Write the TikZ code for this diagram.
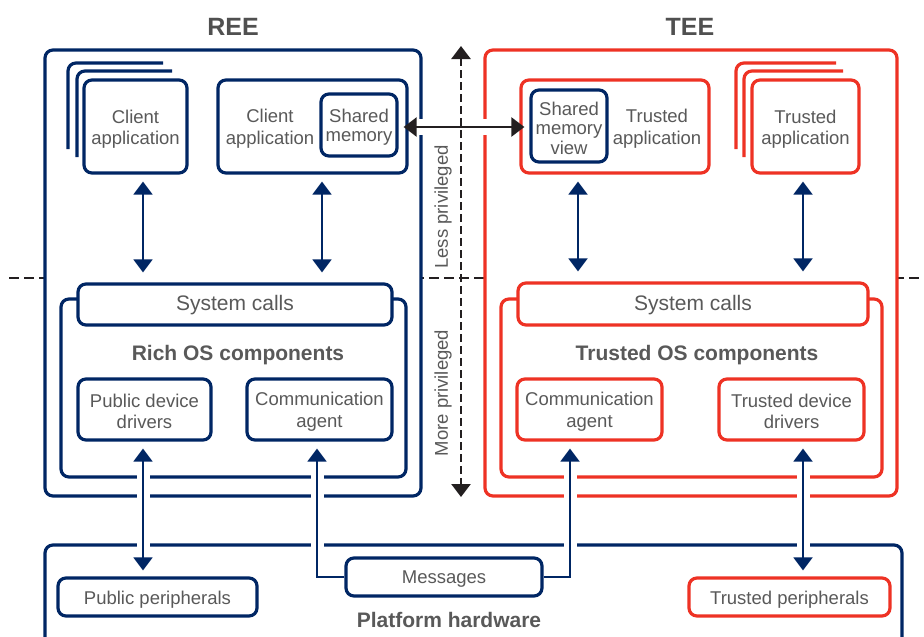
\documentclass[tikz,border=0pt]{standalone}
\usepackage{fontspec}
\setmainfont{Liberation Sans}
\usetikzlibrary{arrows.meta,calc}
\definecolor{navy}{RGB}{0,38,100}
\definecolor{teered}{RGB}{238,50,36}
\definecolor{txt}{RGB}{89,89,89}
\definecolor{ink}{RGB}{35,31,32}
\begin{document}
\begin{tikzpicture}[x=1pt,y=-1pt,
  box/.style={draw, line width=3.2pt, rounded corners=8pt, fill=white, inner sep=0pt},
  nbox/.style={box, draw=navy},
  rbox/.style={box, draw=teered},
  stackline/.style={line width=3.2pt, rounded corners=8pt},
  lbl/.style={text=txt, align=center, inner sep=0pt, font=\fontsize{18.5}{21.5}\selectfont},
  tight/.style={font=\fontsize{18.5}{19.5}\selectfont},
  boldlbl/.style={text=txt, inner sep=0pt, font=\fontsize{21}{24}\selectfont\bfseries},
  titlelbl/.style={text=txt!90!black, inner sep=0pt, font=\fontsize{25}{28}\selectfont\bfseries},
  sysfont/.style={font=\fontsize{21}{24}\selectfont},
  navarrow/.style={draw=navy, line width=2pt, {Triangle[length=13pt,width=19pt]}-{Triangle[length=13pt,width=19pt]}},
  navsingle/.style={draw=navy, line width=2pt, -{Triangle[length=13pt,width=19pt]}},
  halo/.style={preaction={draw=white, line width=13pt, -, shorten <=13pt, shorten >=13pt}},
  inkarrow/.style={draw=ink, line width=2.2pt, {Triangle[length=13pt,width=19pt]}-{Triangle[length=13pt,width=19pt]}},
]
\useasboundingbox (0,0) rectangle (924,637);
\clip (0,0) rectangle (924,637);

% privilege boundary
\coordinate (hl) at (9,278);
\coordinate (hr) at (924,278);
\draw[ink, line width=2pt, dash pattern=on 10pt off 5pt] (hl) -- (hr);

% ===== REE =====
\node[titlelbl] (reetitle) at (233,27) {REE};
\node[nbox, minimum width=376pt, minimum height=446pt] (ree) at (233,273) {};
\draw[stackline, navy] (68,149) |- (163,63);
\draw[stackline, navy] (77,157) |- (172,71);
\node[nbox, minimum width=103pt, minimum height=93pt] (ca1) at (135.5,126.5) {};
\node[lbl] (ca1t) at ($(ca1)+(0,2.5)$) {Client\\application};
\node[nbox, minimum width=189pt, minimum height=93pt] (ca2) at (312.5,126.5) {};
\node[lbl] (ca2t) at (270,128.5) {Client\\application};
\node[nbox, minimum width=76pt, minimum height=62pt] (shm) at (359,125) {};
\node[lbl, tight] (shmt) at ($(shm)+(0,2)$) {Shared\\memory};
\node[nbox, minimum width=345pt, minimum height=178pt] (rich) at (233.5,388) {};
\node[nbox, minimum width=314pt, minimum height=41pt] (sys1) at (235,304.5) {};
\node[lbl, sysfont] (sys1t) at ($(sys1)+(0,1)$) {System calls};
\node[boldlbl] (richlbl) at (238,355) {Rich OS components};
\node[nbox, minimum width=133pt, minimum height=61pt] (pdd) at (144.5,409.5) {};
\node[lbl] (pddt) at ($(pdd)+(0,2)$) {Public device\\drivers};
\node[nbox, minimum width=145pt, minimum height=61pt] (cag1) at (319.5,409.5) {};
\node[lbl] (cag1t) at ($(cag1)+(0,2)$) {Communication\\agent};

% ===== TEE =====
\node[titlelbl] (teetitle) at (690,27) {TEE};
\node[rbox, minimum width=412pt, minimum height=446pt] (tee) at (691,273) {};
\node[rbox, minimum width=188pt, minimum height=93pt] (ta1) at (615,126.5) {};
\node[lbl] (ta1t) at (657,128.5) {Trusted\\application};
\node[nbox, minimum width=76pt, minimum height=72pt] (shmv) at (569,126) {};
\node[lbl, tight] (shmvt) at ($(shmv)+(0,2)$) {Shared\\memory\\view};
\draw[stackline, teered] (736,149) |- (836,63);
\draw[stackline, teered] (744,157) |- (843,71);
\node[rbox, minimum width=107pt, minimum height=93pt] (ta2) at (805.5,126.5) {};
\node[lbl] (ta2t) at ($(ta2)+(0,2.5)$) {Trusted\\application};
\node[rbox, minimum width=381pt, minimum height=178pt] (tos) at (691.5,388) {};
\node[rbox, minimum width=350pt, minimum height=42pt] (sys2) at (693,304) {};
\node[lbl, sysfont] (sys2t) at ($(sys2)+(0,1)$) {System calls};
\node[boldlbl] (toslbl) at (697,355) {Trusted OS components};
\node[rbox, minimum width=145pt, minimum height=61pt] (cag2) at (589.5,409.5) {};
\node[lbl] (cag2t) at ($(cag2)+(0,2)$) {Communication\\agent};
\node[rbox, minimum width=145pt, minimum height=61pt] (tdd) at (791.5,409.5) {};
\node[lbl] (tddt) at ($(tdd)+(0,2)$) {Trusted device\\drivers};

% ===== Platform hardware =====
\node[nbox, minimum width=857pt, minimum height=115pt] (plat) at (473.5,602.5) {};
\node[nbox, minimum width=199pt, minimum height=38pt] (pp) at (157.5,597) {};
\node[lbl] (ppt) at ($(pp)+(0,2.5)$) {Public peripherals};
\node[nbox, minimum width=196pt, minimum height=38pt] (msg) at (444,577) {};
\node[lbl] (msgt) at ($(msg)+(0,2)$) {Messages};
\node[rbox, minimum width=201pt, minimum height=38pt] (tp) at (789.5,597) {};
\node[lbl] (tpt) at ($(tp)+(0,2.5)$) {Trusted peripherals};
\node[boldlbl] (platlbl) at (449,620) {Platform hardware};

% connector columns
\coordinate (xa) at (143,0);
\coordinate (xb) at (322,0);
\coordinate (xc) at (578,0);
\coordinate (xd) at (803,0);
\coordinate (xe) at (317,0);
\coordinate (xf) at (570,0);
\coordinate (yh) at (0,127);

% app <-> system calls
\draw[navarrow, shorten <=7pt, shorten >=10pt] (ca1.south -| xa) -- (sys1.north -| xa);
\draw[navarrow, shorten <=7pt, shorten >=10pt] (ca2.south -| xb) -- (sys1.north -| xb);
\draw[navarrow, shorten <=7pt, shorten >=10pt] (ta1.south -| xc) -- (sys2.north -| xc);
\draw[navarrow, shorten <=7pt, shorten >=10pt] (ta2.south -| xd) -- (sys2.north -| xd);

% drivers <-> peripherals
\draw[navarrow, halo, shorten <=7pt, shorten >=6pt] (pdd.south -| xa) -- (pp.north -| xa);
\draw[navarrow, halo, shorten <=7pt, shorten >=6pt] (tdd.south -| xd) -- (tp.north -| xd);

% messages -> communication agents
\draw[navsingle, halo, shorten >=7pt] (msg.west) -| (cag1.south -| xe);
\draw[navsingle, halo, shorten >=7pt] (msg.east) -| (cag2.south -| xf);

% shared memory link
\draw[white, line width=16pt, shorten <=15pt, shorten >=15pt] (shm.east |- yh) -- (shmv.west |- yh);
\draw[inkarrow, shorten <=5pt, shorten >=5pt] (shm.east |- yh) -- (shmv.west |- yh);

% privilege arrow
\coordinate (vtop) at (461,46);
\coordinate (vbot) at (461,497);
\draw[inkarrow, line width=2.6pt, dash pattern=on 8pt off 4pt] (vtop) -- (vbot);
\node[lbl, rotate=90] (less) at (443,207) {Less privileged};
\node[lbl, rotate=90] (more) at (443,393) {More privileged};
\end{tikzpicture}
\end{document}
